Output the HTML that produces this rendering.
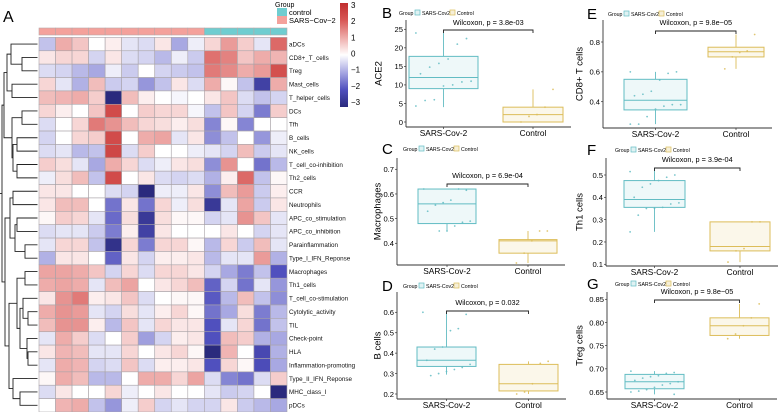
<!DOCTYPE html>
<html><head><meta charset="utf-8"><style>
html,body{margin:0;padding:0;background:#fff;}
svg{display:block;font-family:"Liberation Sans",Arial,sans-serif;}
</style></head><body>
<svg id="fig" width="778" height="412" viewBox="0 0 778 412" xmlns="http://www.w3.org/2000/svg">
<g id="heat"></g>
<g id="boxes"></g>
</svg>
<script>
const rowNames=["aDCs","CD8+_T_cells","Treg","Mast_cells","T_helper_cells","DCs","Tfh","B_cells","NK_cells","T_cell_co-inhibition","Th2_cells","CCR","Neutrophils","APC_co_stimulation","APC_co_inhibition","Parainflammation","Type_I_IFN_Reponse","Macrophages","Th1_cells","T_cell_co-stimulation","Cytolytic_activity","TIL","Check-point","HLA","Inflammation-promoting","Type_II_IFN_Reponse","MHC_class_I","pDCs"];
const colGroups=["S","S","S","S","S","S","S","S","S","S","C","C","C","C","C"];
const heatValues=[
[-0.7,1,0.7,0,0.2,-0.3,-0.4,0.3,-1,-0.2,0.5,1.2,0.6,-0.3,1.8],
[0.3,0.5,0.5,-0.5,0.3,-0.4,-0.5,-0.8,-0.2,-0.6,1.7,1.5,0.7,1,0.9],
[-0.4,-0.5,-0.8,-1,-0.2,-0.6,0,-0.5,-0.6,-0.7,1.6,1.4,1,1.2,2.2],
[0.5,-0.3,-0.9,0.8,-0.6,-0.5,-1.2,-0.7,0.3,-0.4,1,0.1,-0.7,-2.4,1],
[0.8,0.9,1,0.6,-3,0.8,0.2,0,-0.1,0,0.3,0.7,-0.4,-0.7,-0.5],
[0.5,0.2,0,0.7,2.3,0,0.6,0.5,0.5,-0.1,-0.7,0.7,-0.5,-1.5,0.6],
[-0.4,0,0.5,1.6,1.3,0.8,0.5,0.4,0.2,0.4,-1.4,0.1,-1.4,0,0],
[-0.5,0,0.5,0.6,2.3,0,1,1.1,-0.3,0.3,-1.3,-0.7,0,-1.2,-0.2],
[-0.4,-0.3,-0.8,-0.7,2.4,-0.4,0.6,0,0,-0.2,-0.3,-0.5,0.8,-0.6,-0.3],
[0.6,0.4,-0.3,-1,1,0.5,-0.4,-0.2,0.3,0.4,-1.3,1.3,0,-1.6,-0.8],
[-0.2,0.4,0.8,-0.7,2.3,0,0.3,-0.4,-0.5,-0.4,-0.9,0.2,1.8,-0.7,0.1],
[0.3,0.3,0,0,-0.4,-0.5,-3,-0.2,-0.2,0.3,-1.3,0.8,1.2,-0.6,0.2],
[0.3,0.8,0.8,0,-1.6,0.3,-1.6,0.5,-0.2,0.4,-2.6,-0.3,1.1,-0.6,0.3],
[0.1,0.6,0.5,-0.3,-1.7,0.4,-2.6,0.4,0.1,0.1,-0.5,-0.3,1.3,0.7,-0.3],
[-0.4,-0.3,-0.3,-0.6,-1.5,0.2,-2.4,0.3,0,0,0,0.3,0,-0.5,-0.3],
[-0.3,0.5,0.5,-0.7,-2.8,0.5,-1.5,0.5,0.5,0.1,-0.8,0.5,-0.6,0.8,-0.3],
[-0.9,0.3,0.3,0,-1.8,0.3,-0.5,0.2,0.2,0.3,-0.8,-0.3,-0.3,1.2,-0.9],
[1.1,1.1,1,0.7,-0.5,0.5,-0.4,0.5,0.5,0.3,-0.5,-1,-1.5,-0.7,-2],
[1,1.1,1,-0.3,0.8,1.1,0,0.3,0.5,0.8,-1.8,-0.5,-1.6,-0.3,-1.2],
[0.3,1.3,1.6,0.2,0.3,0.7,-0.4,0,0.1,0.1,-1.9,-0.8,0.8,-0.7,-1.3],
[1,1.3,1.2,-0.3,-0.5,0.4,-0.3,0.2,0.5,0.1,-1.6,-1,0.4,-1.5,-0.8],
[0.8,1.3,1.3,0.2,-0.8,0.7,-0.3,0.5,0.3,0.3,-2,-0.3,0.5,-1.6,-0.7],
[-0.3,1,0.6,-0.4,0,0.6,-1.1,-0.5,0.2,0.3,-2,0.8,0.6,-0.9,-1],
[0.3,0.9,0.8,-0.3,-0.3,0.5,0,0.3,0.5,0.1,-3,0.9,0,-2.2,-0.9],
[-0.3,1,0.9,-0.5,-0.4,0.7,-0.4,0.2,0.2,0.3,-2,0.5,0.1,-2.1,-1],
[0.1,1,0.8,-0.8,-0.8,0,1,1,0.5,1.1,-0.4,-1.4,-1.6,-0.4,0.6],
[-0.4,0.3,0,0,0.5,-0.2,0,0.3,0,0,-0.3,-0.6,-0.5,0,-3.2],
[0,0.9,1,-0.7,-1.2,-0.2,0.6,-0.5,-0.3,-0.5,-0.5,0.3,-0.6,-0.8,-1]
];
const legendTicks=[3,2,1,0,-1,-2,-3];
const dendro=[[[[0,[1,2,22],11],[3,4,12],7],[[5,6,22],[[7,8,17],[9,10,17],13],12],4],[[[11,12,13],[[13,14,17],[15,16,25],15],10],[[[17,18,25],[[19,[20,21,28],23],[22,[23,24,28],27],20],17],[25,[26,27,20],13],9],5],2];

const NS="http://www.w3.org/2000/svg";
function mk(tag,attrs,parent){const e=document.createElementNS(NS,tag);for(const k in attrs)e.setAttribute(k,attrs[k]);parent.appendChild(e);return e;}
function txt(s,attrs,parent){const e=mk("text",attrs,parent);e.textContent=s;return e;}

const stops=[[-3,[42,42,125]],[-2,[80,80,190]],[-1,[168,168,226]],[0,[255,255,255]],[1,[238,172,170]],[2,[216,88,86]],[3,[192,46,46]]];
function col(v){v=Math.max(-3,Math.min(3,v));for(let i=0;i<stops.length-1;i++){const a=stops[i],b=stops[i+1];if(v<=b[0]){const t=(v-a[0])/(b[0]-a[0]);const c=a[1].map((x,j)=>Math.round(x+(b[1][j]-x)*t));return `rgb(${c})`;}}return "rgb(192,46,46)";}

const H=document.getElementById("heat");
const hx0=39,hx1=287,hy0=37.4,hy1=412;
const nR=rowNames.length,nC=colGroups.length;
const cw=(hx1-hx0)/nC, rh=(hy1-hy0)/nR;
const xCol=j=>hx0+j*cw, yRow=i=>hy0+i*rh;
txt("A",{x:3,y:22,"font-size":16},H);
for(let j=0;j<nC;j++){
  const r=mk("rect",{x:xCol(j),y:28,width:cw,height:7,fill:colGroups[j]==="S"?"#f4a19b":"#6fcdd0",stroke:"#b8a8a8","stroke-width":0.6},H);
  
  
}
for(let i=0;i<nR;i++){
  for(let j=0;j<nC;j++){
    const r=mk("rect",{x:xCol(j),y:yRow(i),width:cw,height:rh,fill:col(heatValues[i][j]),stroke:"#a9a3a8","stroke-width":0.6},H);
    
    
  }
  const t=txt(rowNames[i],{x:289,y:yRow(i)+rh/2+2.3,"font-size":6.3,fill:"#111"},H);
  
  
}
function drawNode(n){
  if(typeof n==="number")return {y:yRow(n)+rh/2,x:37.5};
  const a=drawNode(n[0]),b=drawNode(n[1]),x=n[2];
  const g=mk("path",{d:`M${a.x},${a.y}H${x}V${b.y}H${b.x}`,fill:"none",stroke:"#222","stroke-width":0.9},H);
  
  
  return {y:(a.y+b.y)/2,x:x};
}
const root=drawNode(dendro);
mk("path",{d:`M${root.x},${root.y}H0`,stroke:"#222","stroke-width":0.9},H);
txt("Group",{x:275,y:7,"font-size":7},H);
const s1=mk("rect",{x:277,y:8,width:10,height:8,fill:"#6fcdd0"},H);
const s2=mk("rect",{x:277,y:16,width:10,height:8,fill:"#f4a19b"},H);
txt("control",{x:289,y:15,"font-size":7.5},H);
txt("SARS\u2212Cov\u22122",{x:289,y:23,"font-size":7.5},H);
const defs=mk("defs",{},H);
const lg=mk("linearGradient",{id:"cb",x1:0,y1:0,x2:0,y2:1},defs);
legendTicks.forEach((v,k)=>mk("stop",{offset:k/(legendTicks.length-1),"stop-color":col(v)},lg));
const cbar=mk("rect",{x:340,y:3,width:8,height:104,fill:"url(#cb)"},H);
const cy=v=>5+(3-v)*(97/6);
legendTicks.forEach(v=>{const t=txt(v<0?"\u2212"+(-v):String(v),{x:351,y:cy(v)+3,"font-size":8},H);});

const panelLetters=["B","C","D","E","F","G"];
const yTitles=["ACE2","Macrophages","B cells","CD8+ T cells","Th1 cells","Treg cells"];
const pTexts=["Wilcoxon, p = 3.8e-03","Wilcoxon, p = 6.9e-04","Wilcoxon, p = 0.032","Wilcoxon, p = 9.8e\u221205","Wilcoxon, p = 3.9e-04","Wilcoxon, p = 9.8e\u221205"];
const yTicksB=[0,5,10,15,20,25];
const yTicksC=[0.4,0.5,0.6,0.7];
const yTicksD=[0.2,0.3,0.4,0.5,0.6];
const yTicksE=[0.4,0.6,0.8];
const yTicksF=[0.1,0.2,0.3,0.4,0.5];
const yTicksG=[0.65,0.7,0.75,0.8,0.85];
const sarsStats=[[4,9,12,17.7,24],[0.45,0.48,0.56,0.62,0.62],[0.295,0.335,0.365,0.43,0.6],[0.25,0.345,0.41,0.55,0.6],[0.245,0.355,0.39,0.475,0.53],[0.645,0.657,0.672,0.688,0.695]];
const ctrlStats=[[0,0,2,4,8.8],[0.32,0.36,0.41,0.415,0.45],[0.2,0.215,0.25,0.345,0.36],[0.62,0.7,0.735,0.765,0.85],[0.11,0.16,0.18,0.29,0.29],[0.765,0.772,0.793,0.81,0.84]];
const sarsPoints=[[24,22.5,21,17,15.8,14.8,13,11,10.8,10,9.7,6,5.8,4.3],[0.62,0.615,0.62,0.575,0.565,0.555,0.53,0.49,0.485,0.47,0.45,0.45],[0.6,0.59,0.52,0.51,0.43,0.42,0.365,0.345,0.33,0.32,0.31,0.3,0.29],[0.6,0.6,0.59,0.545,0.47,0.45,0.44,0.38,0.38,0.37,0.35,0.3,0.25,0.25],[0.515,0.5,0.49,0.475,0.46,0.445,0.4,0.375,0.37,0.355,0.35,0.35,0.32,0.245],[0.695,0.692,0.69,0.685,0.683,0.68,0.675,0.672,0.668,0.665,0.66,0.655,0.652,0.65,0.645]];
const ctrlPoints=[[8.8,4,2,1.5,0],[0.45,0.45,0.41,0.36,0.32],[0.36,0.35,0.25,0.21,0.2],[0.85,0.74,0.73,0.7,0.62],[0.29,0.29,0.17,0.16,0.11],[0.84,0.81,0.793,0.775,0.765]];
const layouts=[
 {ax:406,top:20,bot:127,v0:0,y0:122,v1:25,y1:29.3,sx:[409,478],cx:[503,563],ly:13,wy:25,by:30,lx:382,tx:378,gx:399},
 {ax:397,top:158,bot:265,v0:0.4,y0:243.3,v1:0.7,y1:169.3,sx:[418,476],cx:[499,557],ly:149,wy:178,by:184,lx:382,tx:377,gx:403},
 {ax:397,top:292,bot:399,v0:0.2,y0:394,v1:0.6,y1:312.3,sx:[417,476],cx:[499,558],ly:286,wy:305,by:311,lx:382,tx:377,gx:403},
 {ax:603,top:20,bot:128,v0:0.4,y0:101.7,v1:0.8,y1:42,sx:[624,687],cx:[708,764],ly:14,wy:25,by:31,lx:587,tx:579,gx:608},
 {ax:606,top:158,bot:266,v0:0.1,y0:264.3,v1:0.5,y1:175,sx:[624,685],cx:[710,770],ly:150,wy:162,by:168,lx:587,tx:579,gx:615},
 {ax:607,top:292,bot:399,v0:0.65,y0:392,v1:0.85,y1:299.3,sx:[625,684],cx:[710,769],ly:284,wy:294,by:300,lx:587,tx:579,gx:615}
];
const tickSets=[yTicksB,yTicksC,yTicksD,yTicksE,yTicksF,yTicksG];
const B=document.getElementById("boxes");
const SC="#62bcc3",CC="#dcbd5a";
function fmt(v,ticks){const d=ticks.some(t=>Math.abs(t*100-Math.round(t*10)*10)>0.01)?2:(ticks.some(t=>t%1!==0)?1:0);return v.toFixed(d);}
layouts.forEach((L,p)=>{
  const g=mk("g",{},B);
  
  
  const y=v=>L.y0+(v-L.v0)*(L.y1-L.y0)/(L.v1-L.v0);
  txt(panelLetters[p],{x:L.lx,y:L.ly+5,"font-size":15},g);
  const lx=L.gx;
  txt("Group",{x:lx,y:L.ly+2,"font-size":5.2},g);
  const r1=mk("rect",{x:lx+16,y:L.ly-3,width:5,height:5,fill:"#dff2f3",stroke:SC,"stroke-width":0.7},g);
  txt("SARS-Cov2",{x:lx+23,y:L.ly+2,"font-size":5.2},g);
  const r2=mk("rect",{x:lx+51,y:L.ly-3,width:5,height:5,fill:"#f6efd7",stroke:CC,"stroke-width":0.7},g);
  txt("Control",{x:lx+58,y:L.ly+2,"font-size":5.2},g);
  mk("line",{x1:L.ax,y1:L.top,x2:L.ax,y2:L.bot,stroke:"#333","stroke-width":0.9},g);
  mk("line",{x1:L.ax,y1:L.bot,x2:L.cx[1]+8,y2:L.bot,stroke:"#333","stroke-width":0.9},g);
  tickSets[p].forEach(v=>{
    mk("line",{x1:L.ax-2,y1:y(v),x2:L.ax,y2:y(v),stroke:"#333","stroke-width":0.7},g);
    const t=txt(fmt(v,tickSets[p]),{x:L.ax-3,y:y(v)+2.8,"font-size":7.6,"text-anchor":"end"},g);
    
    
  });
  const yt=txt(yTitles[p],{x:0,y:0,"font-size":9.5,"text-anchor":"middle",transform:`translate(${L.tx+3.5},${(L.top+L.bot)/2}) rotate(-90)`},g);
  
  const scx=(L.sx[0]+L.sx[1])/2, ccx=(L.cx[0]+L.cx[1])/2;
  [[scx,"SARS-Cov-2"],[ccx,"Control"]].forEach(([x,s])=>{
    mk("line",{x1:x,y1:L.bot,x2:x,y2:L.bot+2,stroke:"#333","stroke-width":0.7},g);
    const t=txt(s,{x:x,y:L.bot+9,"font-size":8.3,"text-anchor":"middle"},g);
    
    
  });
  [[sarsStats[p],L.sx,SC,"#eef8f9",sarsPoints[p]],[ctrlStats[p],L.cx,CC,"#fbf7ea",ctrlPoints[p]]].forEach(([st,xs,c,f,pts],k)=>{
    const mid=(xs[0]+xs[1])/2;
    const bg=mk("g",{},g);
    
    
    mk("line",{x1:mid,y1:y(st[0]),x2:mid,y2:y(st[1]),stroke:c,"stroke-width":0.9},bg);
    mk("line",{x1:mid,y1:y(st[3]),x2:mid,y2:y(st[4]),stroke:c,"stroke-width":0.9},bg);
    mk("rect",{x:xs[0],y:y(st[3]),width:xs[1]-xs[0],height:Math.max(0.5,y(st[1])-y(st[3])),fill:f,stroke:c,"stroke-width":1},bg);
    mk("line",{x1:xs[0],y1:y(st[2]),x2:xs[1],y2:y(st[2]),stroke:c,"stroke-width":1},bg);
    pts.forEach((v,i)=>{
      const jit=(((i*37+k*11)%13)-6)*(xs[1]-xs[0])/15;
      const pt=mk("circle",{cx:mid+jit,cy:y(v),r:0.9,fill:c,opacity:0.85},bg);
      
      
    });
  });
  mk("path",{d:`M${scx},${L.by+3}V${L.by}H${ccx}V${L.by+3}`,fill:"none",stroke:"#222","stroke-width":0.9},g);
  txt(pTexts[p],{x:(scx+ccx)/2,y:L.wy,"font-size":7.3,"text-anchor":"middle"},g);
});
</script>
</body></html>
